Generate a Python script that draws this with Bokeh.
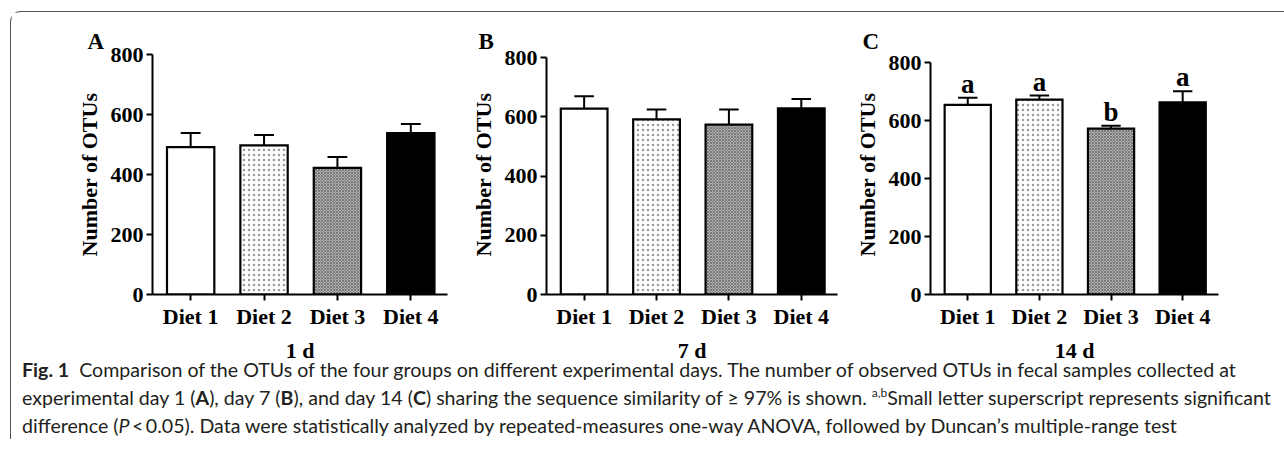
from bokeh.plotting import figure
from bokeh.models import Range1d, FixedTicker, Div, ColumnDataSource, Title
from bokeh.layouts import row, column
from bokeh.embed import file_html
from bokeh.resources import INLINE

# ---------------- data ----------------
diets = ["Diet 1", "Diet 2", "Diet 3", "Diet 4"]
xpos = [1, 2, 3, 4]
day1_mean = [491, 497, 422, 538]
day1_err = [47, 35, 36, 30]
day7_mean = [628, 592, 574, 629]
day7_err = [42, 33, 51, 32]
day14_mean = [655, 673, 573, 664]
day14_err = [25, 14, 10, 38]
day14_letters = ["a", "a", "b", "a"]
y_ticks = [0, 200, 400, 600, 800]
panel_letters = ["A", "B", "C"]
day_labels = ["1 d", "7 d", "14 d"]

# styles per diet
fills = ["white", "white", "#cccccc", "black"]
hatches = [" ", ".", "x", " "]
hatch_colors = ["black", "#9a9a9a", "#777777", "black"]
hatch_scales = [5, 5, 3, 5]

SERIF = "Liberation Serif"
XR = (0.48, 4.5)

FRAME_TOP = 42      # border above the frame
FRAME_H = 240
FIG_H = 357


def panel(mean, err, letters, plabel, dlabel, width, mb_left, mb_right, y_top):
    p = figure(width=width, height=FIG_H, x_range=Range1d(*XR), y_range=Range1d(0, y_top),
               output_backend="svg", toolbar_location=None,
               min_border_left=mb_left, min_border_right=mb_right,
               min_border_top=FRAME_TOP, min_border_bottom=FIG_H - FRAME_TOP - FRAME_H)
    p.outline_line_color = None
    p.grid.visible = False
    p.background_fill_color = "white"
    p.border_fill_color = "white"

    src = ColumnDataSource(dict(x=xpos, top=mean, err_top=[m + e for m, e in zip(mean, err)],
                                fill=fills, hatch=hatches, hcol=hatch_colors, hscale=hatch_scales,
                                cap0=[x - 0.135 for x in xpos], cap1=[x + 0.135 for x in xpos]))
    p.segment(x0="x", y0="top", x1="x", y1="err_top", source=src, line_color="black", line_width=2)
    p.segment(x0="cap0", y0="err_top", x1="cap1", y1="err_top", source=src, line_color="black", line_width=2)
    p.vbar(x="x", top="top", bottom=0, width=0.645, source=src, fill_color="fill",
           line_color="black", line_width=2.2, line_join="miter",
           hatch_pattern="hatch", hatch_color="hcol", hatch_scale="hscale", hatch_weight=1.2)

    if letters:
        src2 = ColumnDataSource(dict(x=xpos, y=[m + e for m, e in zip(mean, err)], t=letters))
        p.text(x="x", y="y", text="t", source=src2, text_align="center", text_baseline="bottom",
               y_offset=1, text_font={"value": SERIF}, text_font_style="bold", text_font_size="27px",
               text_color="black")

    for ax in (p.xaxis[0], p.yaxis[0]):
        ax.axis_line_width = 2
        ax.axis_line_color = "black"
        ax.major_tick_line_width = 2
        ax.major_tick_line_color = "black"
        ax.major_tick_out = 6
        ax.major_tick_in = 0
        ax.minor_tick_line_color = None
        ax.major_label_text_font = SERIF
        ax.major_label_text_font_style = "bold"
        ax.major_label_text_font_size = "22px"
        ax.major_label_text_color = "black"
        ax.axis_label_text_font = SERIF
        ax.axis_label_text_font_style = "bold"
        ax.axis_label_text_font_size = "22px"
        ax.axis_label_text_color = "black"
    p.xaxis.ticker = FixedTicker(ticks=xpos)
    p.xaxis.major_label_overrides = {x: d for x, d in zip(xpos, diets)}
    p.xaxis.major_label_standoff = 3
    p.xaxis.axis_label = dlabel
    p.xaxis.axis_label_standoff = 6
    p.yaxis.ticker = FixedTicker(ticks=y_ticks)
    p.yaxis.bounds = (0, 800)
    p.yaxis.major_label_standoff = 3
    p.yaxis.axis_label = "Number of OTUs"
    p.yaxis.axis_label_standoff = 6

    p.add_layout(Title(text=plabel, align="left", offset=-65 if plabel == "A" else -68, standoff=2,
                       text_font=SERIF, text_font_style="bold", text_font_size="23px",
                       text_color="black"), "above")
    return p


pA = panel(day1_mean, day1_err, None, panel_letters[0], day_labels[0],
           width=449, mb_left=141, mb_right=13, y_top=800)
pB = panel(day7_mean, day7_err, None, panel_letters[1], day_labels[1],
           width=385, mb_left=86, mb_right=8, y_top=811)
pC = panel(day14_mean, day14_err, day14_letters, panel_letters[2], day_labels[2],
           width=439, mb_left=85, mb_right=66, y_top=829)

caption = (
    '<div style="font-family: Lato, sans-serif; font-size: 19.6px; line-height: 28px; color: #231f20; '
    'white-space: nowrap; padding-left: 11px; margin-top: -13px;">'
    '<b>Fig.&nbsp;1</b>&nbsp; Comparison of the OTUs of the four groups on different experimental days. '
    'The number of observed OTUs in fecal samples collected at<br>'
    'experimental day 1 (<b>A</b>), day 7 (<b>B</b>), and day 14 (<b>C</b>) sharing the sequence similarity of '
    '&ge;&nbsp;97% is shown. <sup style="font-size:12px; line-height:0">a,b</sup>Small letter superscript represents significant<br>'
    'difference (<i>P</i>&thinsp;&lt;&thinsp;0.05). Data were statistically analyzed by repeated-measures one-way '
    'ANOVA, followed by Duncan&rsquo;s multiple-range test'
    '</div>'
)
cap = Div(text=caption, width=1273, height=70, margin=(0, 0, 0, 0))

layout = column(row(pA, pB, pC, margin=(0, 0, 0, 0)), cap, margin=(11, 0, 0, 10),
                styles={"border-top": "1px solid #555", "border-left": "1px solid #555",
                        "border-top-left-radius": "11px", "background": "white"})

html = file_html(layout, INLINE)
html = html.replace("<head>", "<head><style>html,body{margin:0;padding:0;background:white;overflow:hidden;}</style>", 1)
open("out.html", "w").write(html)
